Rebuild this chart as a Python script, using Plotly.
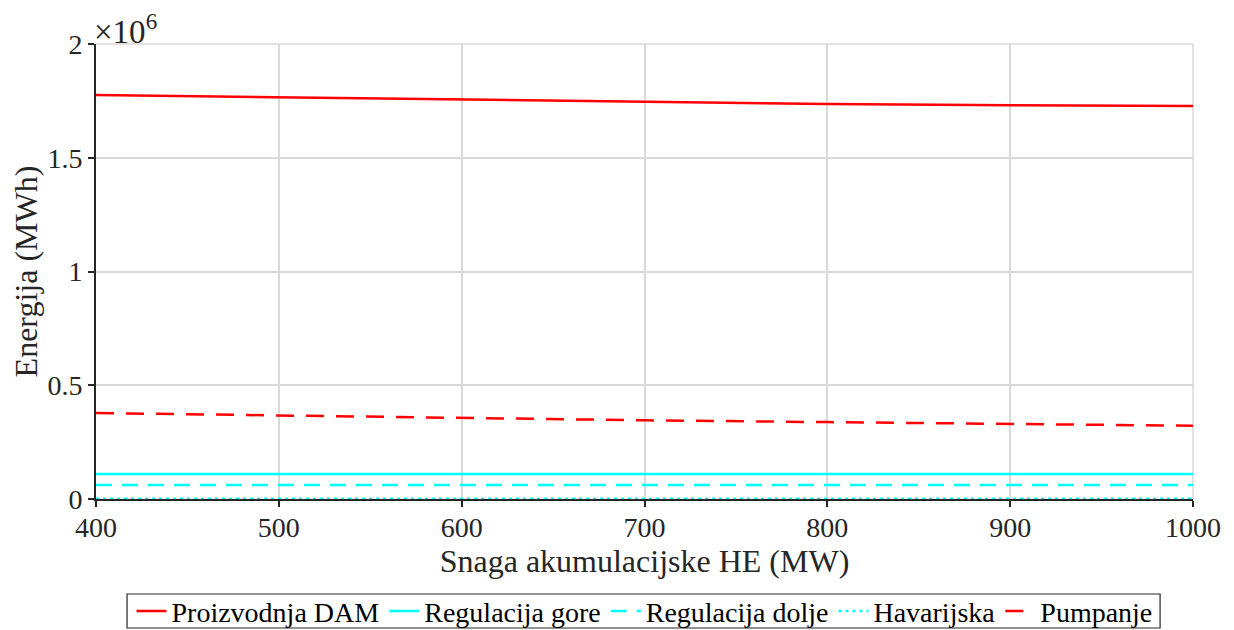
import plotly.graph_objects as go

snaga = [400, 500, 600, 700, 800, 900, 1000]
proizvodnja_dam = [1.776e6, 1.766e6, 1.754e6, 1.745e6, 1.736e6, 1.731e6, 1.727e6]
regulacija_gore = [1.10e5] * 7
regulacija_dolje = [6.2e4] * 7
havarijska = [1.0e3] * 7
pumpanje = [3.78e5, 3.67e5, 3.56e5, 3.46e5, 3.38e5, 3.30e5, 3.22e5]

series = [
    ("Proizvodnja DAM", proizvodnja_dam, "#ff0000", "solid"),
    ("Regulacija gore", regulacija_gore, "#00ffff", "solid"),
    ("Regulacija dolje", regulacija_dolje, "#00ffff", "16px,10px"),
    ("Havarijska", havarijska, "#00ffff", "3px,4px"),
    ("Pumpanje", pumpanje, "#ff0000", "18px,12px"),
]

fig = go.Figure()
for name, vals, col, dash in series:
    fig.add_trace(go.Scatter(x=snaga, y=vals, name=name, mode="lines",
                             line=dict(color=col, dash=dash, width=2.5)))

FONT = "Liberation Serif"
fig.update_layout(
    width=1226, height=622,
    paper_bgcolor="white", plot_bgcolor="white",
    margin=dict(l=88, r=41, t=36, b=131, autoexpand=False),
    font=dict(family=FONT, size=28, color="#262626"),
    showlegend=True,
    legend=dict(orientation="h", x=0.5, xanchor="center", y=-0.247, yanchor="middle",
                bgcolor="rgba(0,0,0,0)", borderwidth=0, font=dict(size=28, color="black"),
                itemwidth=30, tracegroupgap=0),
)
fig.update_xaxes(range=[400, 1000], tickvals=[400, 500, 600, 700, 800, 900, 1000],
                 showgrid=True, gridcolor="#d9d9d9", gridwidth=1.5,
                 showline=True, linecolor="#262626", linewidth=2,
                 ticks="outside", ticklen=6, tickcolor="#262626", tickwidth=2,
                 ticklabelstandoff=-4,
                 zeroline=False, automargin=False, layer="below traces",
                 title=dict(text="Snaga akumulacijske HE (MW)", font=dict(size=32, color="#262626"), standoff=8))
fig.update_yaxes(range=[0, 2e6], tickvals=[0, 0.5e6, 1e6, 1.5e6, 2e6],
                 ticktext=["0", "0.5", "1", "1.5", "2"],
                 showgrid=True, gridcolor="#d9d9d9", gridwidth=1.5,
                 showline=True, linecolor="#262626", linewidth=2,
                 ticks="outside", ticklen=6, tickcolor="#262626", tickwidth=2,
                 zeroline=False, automargin=False, layer="below traces",
                 title=dict(text="Energija (MWh)", font=dict(size=32, color="#262626"), standoff=4))
# mirror grid on top/right
fig.add_shape(type="line", xref="paper", yref="paper", x0=0, x1=1, y0=1, y1=1,
              line=dict(color="#d9d9d9", width=1.5), layer="below")
fig.add_shape(type="line", xref="paper", yref="paper", x0=1, x1=1, y0=0, y1=1,
              line=dict(color="#d9d9d9", width=1.5), layer="below")
# legend box
fig.add_shape(type="rect", xref="paper", yref="paper", x0=0.0283, x1=0.970,
              y0=-0.2835, y1=-0.2088, line=dict(color="#262626", width=1.2))
fig.add_annotation(text="×10<sup>6</sup>", xref="paper", yref="paper", x=0, y=1,
                   xanchor="left", yanchor="bottom", showarrow=False,
                   font=dict(size=33, color="#262626"), yshift=-8, xshift=-4)

fig.write_html("out.html")
